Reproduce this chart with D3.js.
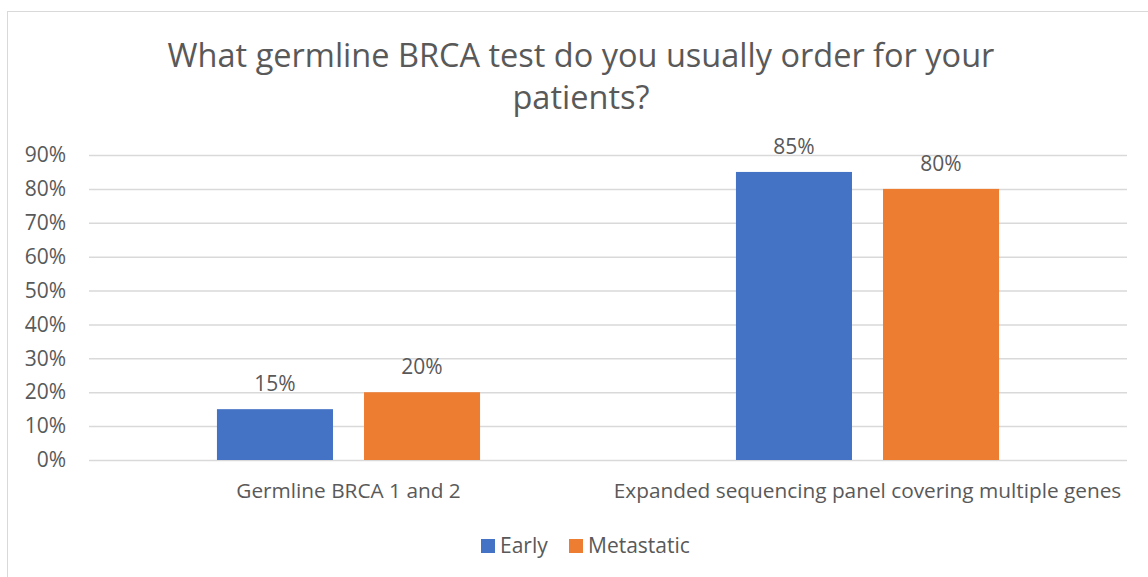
<!DOCTYPE html>
<html><head><meta charset="utf-8">
<script src="https://cdn.jsdelivr.net/npm/d3@7"></script>
<style>
html,body{margin:0;padding:0;background:#fff;}
text{font-family:"Open Sans",sans-serif;fill:#595959;}
</style></head>
<body><svg id="c" width="1148" height="577"></svg>
<script>
const categories = ["Germline BRCA 1 and 2", "Expanded sequencing panel covering multiple genes"];
const seriesNames = ["Early", "Metastatic"];
const early = [15, 85];
const metastatic = [20, 80];
const yTicks = [0,10,20,30,40,50,60,70,80,90];
const titleLines = ["What germline BRCA test do you usually order for your", "patients?"];
const colors = ["#4472C4", "#ED7D31"];

(function(){
const svg = d3.select("#c");
svg.append("rect").attr("x",7.5).attr("y",11.5).attr("width",1160).attr("height",600)
  .attr("fill","#fff").attr("stroke","#D9D9D9").attr("stroke-width",1);

const pL=89, pR=1127, pT=155, pB=460;
const x = d3.scaleBand().domain(categories).range([pL,pR]);
const xs = d3.scaleBand().domain(seriesNames).range([0,x.bandwidth()]).paddingInner(0.211).paddingOuter(0.87);
const y = d3.scaleLinear().domain([0,90]).range([pB,pT]);

const yAxis = d3.axisLeft(y).tickValues(yTicks).tickFormat(d=>d+"%").tickSize(-(pR-pL)).tickPadding(23);
const gy = svg.append("g").attr("transform",`translate(${pL},0)`).call(yAxis);
gy.select(".domain").remove();
gy.selectAll("line").attr("stroke","#D9D9D9").attr("stroke-width",1.5);
gy.selectAll("text").style("font-size","21px").attr("fill","#595959").attr("font-family","Open Sans");

const data = categories.map((c,i)=>({cat:c, vals:[early[i], metastatic[i]]}));
const g = svg.selectAll(".cat").data(data).join("g").attr("transform",d=>`translate(${x(d.cat)},0)`);
g.selectAll("rect").data(d=>d.vals.map((v,j)=>({s:seriesNames[j],v,j}))).join("rect")
  .attr("x",d=>xs(d.s)).attr("width",xs.bandwidth())
  .attr("y",d=>y(d.v)).attr("height",d=>y(0)-y(d.v)).attr("fill",d=>colors[d.j]);
g.selectAll(".lbl").data(d=>d.vals.map((v,j)=>({s:seriesNames[j],v,j}))).join("text")
  .attr("x",d=>xs(d.s)+xs.bandwidth()/2).attr("y",d=>y(d.v)-18)
  .attr("text-anchor","middle").style("font-size","21px").text(d=>d.v+"%");

const xAxis = d3.axisBottom(x).tickSize(0).tickPadding(23);
const gx = svg.append("g").attr("transform",`translate(0,${pB})`).call(xAxis);
gx.select(".domain").remove();
gx.selectAll("text").style("font-size","20.8px").attr("fill","#595959").attr("font-family","Open Sans");

svg.append("text").attr("x",581).attr("y",0).attr("text-anchor","middle").style("font-size","32.5px")
  .selectAll("tspan").data(titleLines).join("tspan").attr("x",581).attr("y",(d,i)=>67+i*42).text(d=>d);

const leg = svg.append("g");
const legX = [481, 569];
seriesNames.forEach((s,i)=>{
  leg.append("rect").attr("x",legX[i]).attr("y",539).attr("width",14).attr("height",14).attr("fill",colors[i]);
  leg.append("text").attr("x",legX[i]+19).attr("y",553).style("font-size","21px").text(s);
});
})();
</script></body></html>
